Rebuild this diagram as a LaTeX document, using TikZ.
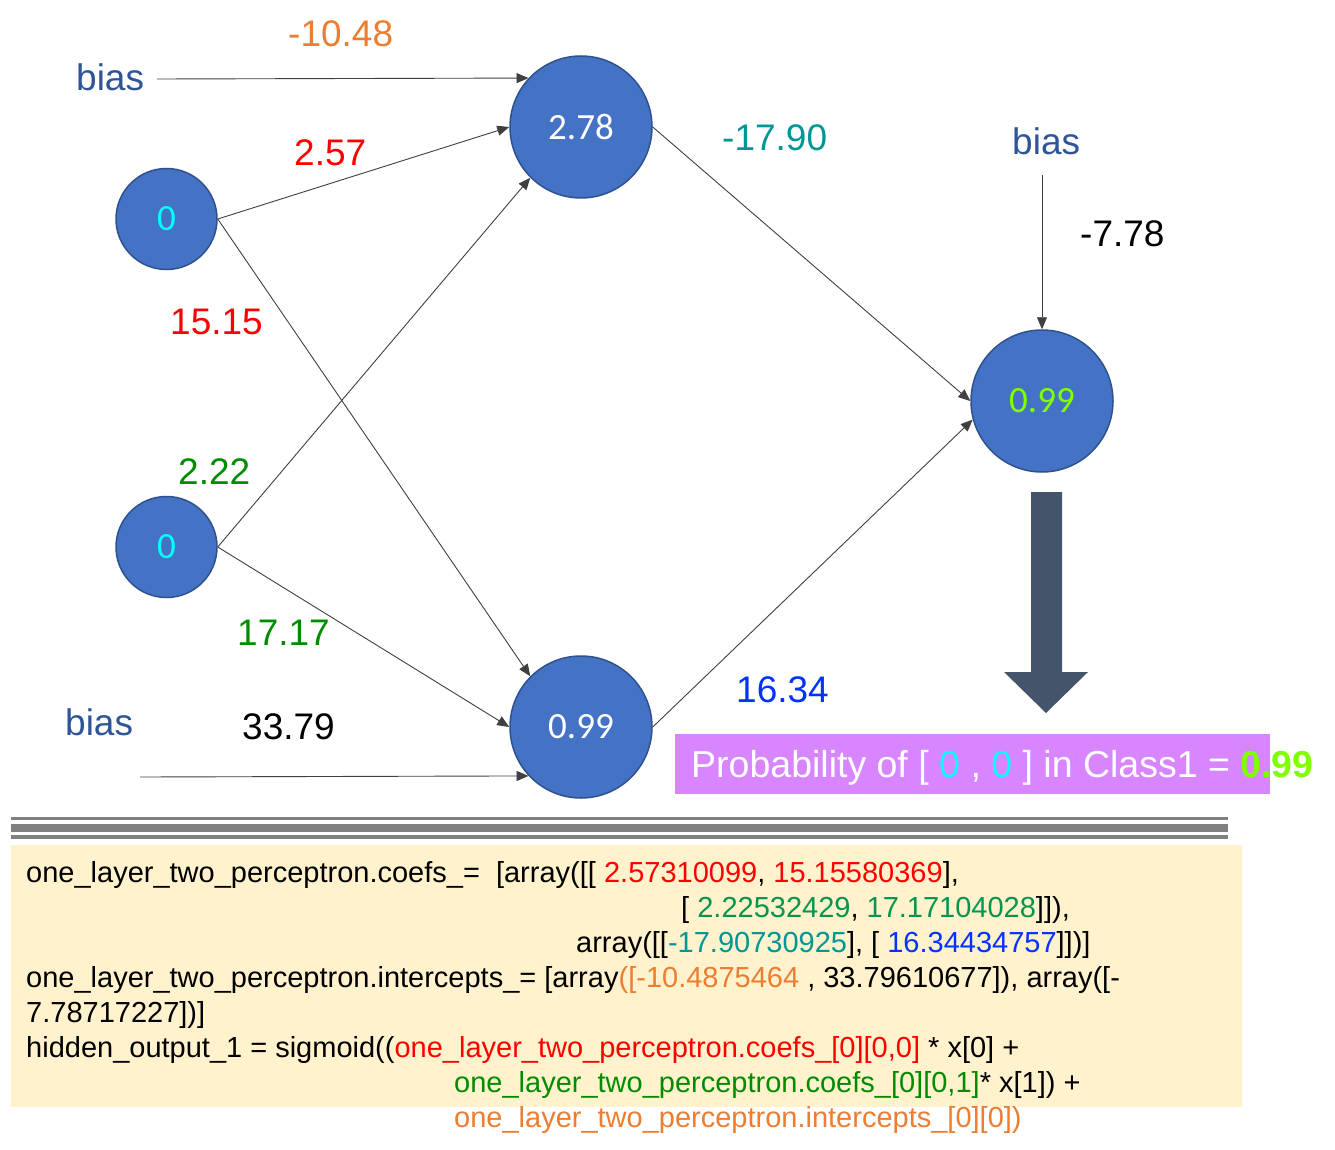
\documentclass[tikz,border=0pt]{standalone}
\usepackage{fontspec}
\setmainfont{Liberation Sans}
\newfontfamily\nodefont{Carlito}
\usetikzlibrary{arrows.meta}
\definecolor{nodefill}{HTML}{4472C4}
\definecolor{nodeedge}{HTML}{2F528F}
\definecolor{biasblue}{HTML}{2F5597}
\definecolor{orangeL}{HTML}{ED7D31}
\definecolor{redL}{HTML}{FF0000}
\definecolor{greenL}{RGB}{0,140,0}
\definecolor{greenC}{RGB}{0,150,80}
\definecolor{tealL}{RGB}{0,150,150}
\definecolor{blueL}{RGB}{0,51,255}
\definecolor{cyanL}{HTML}{00FFFF}
\definecolor{limeL}{RGB}{128,255,0}
\definecolor{linegray}{HTML}{404040}
\definecolor{probfill}{RGB}{216,134,255}
\definecolor{codefill}{HTML}{FFF2CC}
\definecolor{bigarrow}{HTML}{44546A}
\definecolor{sepgray}{HTML}{808080}
\begin{document}
\begin{tikzpicture}[x=1pt,y=-1pt,
  neuron/.style={circle, fill=nodefill, draw=nodeedge, line width=1.5pt, inner sep=0pt, font=\nodefont\fontsize{37}{37}\selectfont},
  wlabel/.style={inner sep=0pt, anchor=base west, font=\fontsize{37}{37}\selectfont},
  conn/.style={draw=linegray, line width=0.9pt, -{Triangle[length=12pt,width=10pt]}},
  codeline/.style={inner sep=0pt, anchor=base west, font=\fontsize{29}{35}\selectfont}]
\useasboundingbox (0,0) rectangle (1335,1150);
\fill[white] (0,0) rectangle (1335,1150);

% neurons
\node[neuron, minimum size=101pt, text=cyanL] (i1) at (166.5,219) {0};
\node[neuron, minimum size=101pt, text=cyanL] (i2) at (166.5,547) {0};
\node[neuron, minimum size=142pt, text=white] (h1) at (581,127) {2.78};
\node[neuron, minimum size=142pt, text=white] (h2) at (581,727) {0.99};
\node[neuron, minimum size=142pt, text=limeL] (out) at (1042,401) {0.99};

% bias labels and start points
\node[wlabel, text=biasblue] (b1) at (76,91) {bias};
\node[wlabel, text=biasblue] (b2) at (65,735) {bias};
\node[wlabel, text=biasblue] (b3) at (1012,155) {bias};
\coordinate (b1s) at (157,79);
\coordinate (b2s) at (140,777);
\coordinate (b3s) at (1042,175);

% weight labels
\node[wlabel, text=orangeL] (w1) at (288,47) {-10.48};
\node[wlabel, text=redL] (w2) at (294,166) {2.57};
\node[wlabel, text=redL] (w3) at (170,334) {15.15};
\node[wlabel, text=greenL] (w4) at (178,484) {2.22};
\node[wlabel, text=greenL] (w5) at (237,645) {17.17};
\node[wlabel, text=black] (w6) at (242,739) {33.79};
\node[wlabel, text=tealL] (w7) at (722,151) {-17.90};
\node[wlabel, text=black] (w8) at (1080,247) {-7.78};
\node[wlabel, text=blueL] (w9) at (736,702) {16.34};

% connectors
\draw[conn] (b1s) -- (h1.137.5);
\draw[conn] (i1.east) -- (h1.west);
\draw[conn] (i1.east) -- (h2.135);
\draw[conn] (i2.east) -- (h1.225);
\draw[conn] (i2.east) -- (h2.west);
\draw[conn] (b2s) -- (h2.223.6);
\draw[conn] (h1.east) -- (out.west);
\draw[conn] (h2.east) -- (out.195);
\draw[conn] (b3s) -- (out.north);

% big arrow
\fill[bigarrow] (1031,492) -- (1062,492) -- (1062,672) -- (1088,672) -- (1046,713) -- (1004,672) -- (1031,672) -- cycle;

% probability box
\fill[probfill] (675,734) rectangle (1270,794);
\node[inner sep=0pt, anchor=base west, font=\fontsize{37.5}{37.5}\selectfont, text=white] (prob) at (691,777)
  {Probability of [ \textcolor{cyanL}{0} , \textcolor{cyanL}{0} ] in Class1 = \textcolor{limeL}{\bfseries 0.99}};

% separator lines
\fill[sepgray] (11,817.3) rectangle (1228,820.3);
\fill[sepgray] (11,824.3) rectangle (1228,831.7);
\fill[sepgray] (11,835.3) rectangle (1228,839);

% code box
\fill[codefill] (11,845) rectangle (1242,1107);
\node[codeline] (c1) at (26,882) {one\_layer\_two\_perceptron.coefs\_=\ \ [array([[ \textcolor{redL}{2.57310099}, \textcolor{redL}{15.15580369}],};
\node[codeline] (c2) at (681,917) {[ \textcolor{greenC}{2.22532429}, \textcolor{greenC}{17.17104028}]]),};
\node[codeline] (c3) at (576,952) {array([[\textcolor{tealL}{-17.90730925}], [ \textcolor{blueL}{16.34434757}]])]};
\node[codeline] (c4) at (26,987) {one\_layer\_two\_perceptron.intercepts\_= [array\textcolor{orangeL}{([-10.4875464} , 33.79610677]), array([-};
\node[codeline] (c5) at (26,1022) {7.78717227])]};
\node[codeline] (c6) at (26,1057) {hidden\_output\_1 = sigmoid((\textcolor{redL}{one\_layer\_two\_perceptron.coefs\_[0][0,0]} * x[0] +};
\node[codeline] (c7) at (454,1092) {\textcolor{greenL}{one\_layer\_two\_perceptron.coefs\_[0][0,1]}* x[1]) +};
\node[codeline] (c8) at (454,1127) {\textcolor{orangeL}{one\_layer\_two\_perceptron.intercepts\_[0][0])}};
\end{tikzpicture}
\end{document}
